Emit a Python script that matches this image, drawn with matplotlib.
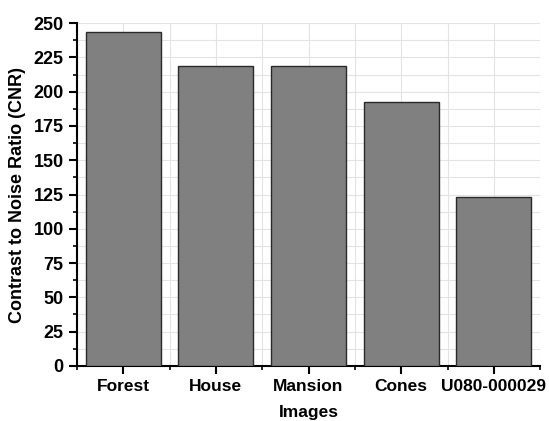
import matplotlib
matplotlib.use('Agg')
import matplotlib.pyplot as plt
from matplotlib.ticker import MultipleLocator

# datos
imagenes = ['Forest', 'House', 'Mansion', 'Cones', 'U080-000029']
cnr = [243.5, 219.0, 218.7, 192.3, 123.0]

plt.rcParams['font.family'] = ['Liberation Sans', 'DejaVu Sans']
plt.rcParams['font.weight'] = 'bold'

fig = plt.figure(figsize=(5.49, 4.21), dpi=100)
ax = fig.add_axes([0.140, 0.131, 0.844, 0.814])

pos = list(range(1, len(imagenes) + 1))
ax.bar(pos, cnr, width=0.81, color='#808080', edgecolor='#2a2a2a', linewidth=1.0, zorder=3)

ax.set_xlim(0.5, 5.5)
ax.set_ylim(0, 250)
ax.set_xticks(pos)
ax.set_xticklabels(imagenes)
ax.xaxis.set_minor_locator(MultipleLocator(0.5))
ax.yaxis.set_major_locator(MultipleLocator(25))
ax.yaxis.set_minor_locator(MultipleLocator(12.5))

ax.grid(True, which='both', color='#e3e3e3', linewidth=0.8, zorder=0)
ax.set_axisbelow(True)

for s in ['top', 'right']:
    ax.spines[s].set_visible(False)
for s in ['left', 'bottom']:
    ax.spines[s].set_linewidth(1.5)

ax.tick_params(axis='both', which='major', direction='out', length=6, width=1.5, labelsize=13)
ax.tick_params(axis='x', which='major', labelsize=12.5)
ax.tick_params(axis='both', which='minor', direction='out', length=3, width=1.2)

ax.set_xlabel('Images', fontsize=12.5, fontweight='bold', labelpad=8)
ax.set_ylabel('Contrast to Noise Ratio (CNR)', fontsize=13, fontweight='bold', labelpad=5)

fig.savefig('out.png', dpi=100)
